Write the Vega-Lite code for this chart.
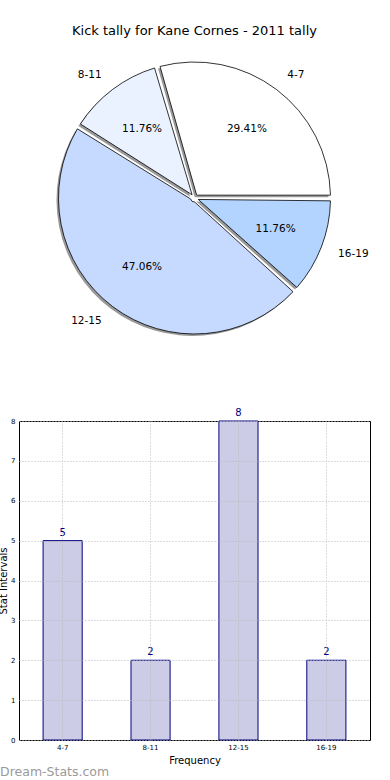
{
  "$schema": "https://vega.github.io/schema/vega-lite/v6.json",
  "padding": {"left": -2, "top": 25, "right": 0, "bottom": 0},
  "background": "white",
  "config": {"font": "DejaVu Sans", "view": {"stroke": null}},
  "title": {"text": "Dream-Stats.com", "orient": "bottom", "anchor": "start", "frame": "bounds", "fontSize": 12.5, "fontWeight": "normal", "color": "#9a9a9a", "offset": 0, "dx": 2},
  "data": {"values": [
    {"interval": "4-7", "count": 5, "pct": "29.41%"},
    {"interval": "8-11", "count": 2, "pct": "11.76%"},
    {"interval": "12-15", "count": 8, "pct": "47.06%"},
    {"interval": "16-19", "count": 2, "pct": "11.76%"}
  ]},
  "transform": [{"window": [{"op": "row_number", "as": "idx"}]}],
  "bounds": "flush",
  "spacing": 75,
  "vconcat": [
    {
      "width": 351,
      "height": 296,
      "title": {"text": "Kick tally for Kane Cornes - 2011 tally", "fontSize": 13, "fontWeight": "normal", "offset": 12, "color": "black"},
      "encoding": {
        "theta": {"field": "count", "type": "quantitative", "stack": true, "scale": {"range": [1.5708, 7.854]}},
        "order": {"field": "idx", "sort": "descending"}
      },
      "layer": [
        {"mark": {"type": "arc", "radius": 136, "innerRadius": 4, "padAngle": 0.042, "fill": "#999999", "xOffset": -2, "yOffset": 2}},
        {"mark": {"type": "arc", "radius": 136, "innerRadius": 4, "padAngle": 0.042, "stroke": "black", "strokeWidth": 0.8},
         "encoding": {"fill": {"field": "interval", "type": "nominal", "scale": {"domain": ["4-7", "8-11", "12-15", "16-19"], "range": ["#ffffff", "#ebf2ff", "#c6d9ff", "#b3d4ff"]}, "legend": null}}},
        {"mark": {"type": "text", "radius": 87, "fontSize": 10.5, "color": "black"},
         "encoding": {"text": {"field": "pct"}}},
        {"mark": {"type": "text", "radius": 154, "fontSize": 10.5, "color": "black", "align": {"expr": "datum.interval == '4-7' || datum.interval == '16-19' ? 'left' : 'right'"}},
         "encoding": {"text": {"field": "interval"}}}
      ]
    },
    {
      "width": 351,
      "height": 319,
      "view": {"stroke": "black", "strokeWidth": 1},
      "encoding": {
        "x": {"field": "interval", "type": "nominal", "sort": ["4-7", "8-11", "12-15", "16-19"],
              "scale": {"paddingInner": 0.555, "paddingOuter": 0.274},
              "axis": {"labelAngle": 0, "labelFontSize": 7, "labelColor": "black", "ticks": false, "domain": false, "grid": true, "bandPosition": 0.5, "gridDash": [1, 2], "gridColor": "#bbbbbb", "labelPadding": 3, "title": "Frequency", "titleFontSize": 10, "titleFontWeight": "normal", "titleColor": "black", "titlePadding": 5, "zindex": 1}},
        "y": {"field": "count", "type": "quantitative", "scale": {"domain": [0, 8], "nice": false},
              "axis": {"values": [0, 1, 2, 3, 4, 5, 6, 7, 8], "labelFontSize": 7, "labelColor": "black", "ticks": false, "domain": false, "grid": true, "gridDash": [1, 2], "gridColor": "#bbbbbb", "labelPadding": 4, "title": "Stat Intervals", "titleFontSize": 10, "titleFontWeight": "normal", "titleColor": "black", "titlePadding": 2, "zindex": 1}}
      },
      "layer": [
        {"mark": {"type": "bar", "fill": "#ccccE6", "stroke": "#000080", "strokeWidth": 1}},
        {"mark": {"type": "text", "baseline": "bottom", "dy": -3, "color": "#000080", "fontSize": 10},
         "encoding": {"text": {"field": "count"}}}
      ]
    }
  ]
}
